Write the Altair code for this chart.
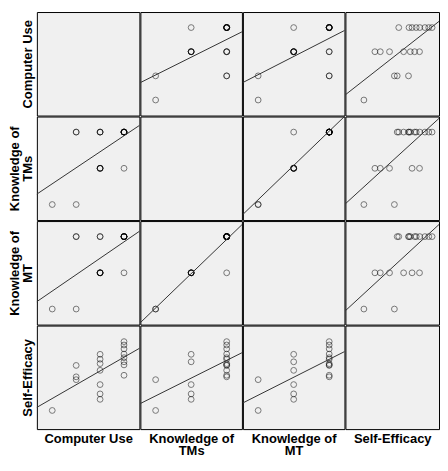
import altair as alt
import pandas as pd

# One row per respondent
computer_use = [1, 2, 2, 2, 3, 3, 3, 3, 3, 3, 3, 4, 4, 4, 4, 4, 4, 4, 4]
knowledge_tms = [1, 1, 3, 3, 2, 2, 2, 3, 3, 3, 2, 3, 3, 2, 3, 3, 3, 3, 3]
knowledge_mt = [1, 1, 3, 3, 2, 2, 2, 2, 3, 3, 2, 3, 3, 2, 3, 3, 3, 3, 3]
self_efficacy = [1.72, 2.91, 3.02, 3.46, 2.15, 2.36, 2.72, 3.27, 3.53, 3.70, 3.89,
                 3.08, 3.48, 3.60, 3.76, 3.90, 4.10, 4.25, 4.38]

var_keys = ["cu", "kt", "km", "se"]
var_titles = {
    "cu": "Computer Use",
    "kt": ["Knowledge of", "TMs"],
    "km": ["Knowledge of", "MT"],
    "se": "Self-Efficacy",
}
domains = {
    "cu": [0.357, 4.643],
    "kt": [0.571, 3.429],
    "km": [0.571, 3.429],
    "se": [1.0, 5.0],
}
widths = [103, 102, 102, 94]
HEIGHT = 104
# last column is cut off by the picture edge: keep the same px/unit
x_domains = dict(domains)
x_domains["se"] = [1.0, 1.0 + 4.0 * widths[3] / 103]

df = pd.DataFrame({
    "cu": computer_use,
    "kt": knowledge_tms,
    "km": knowledge_mt,
    "se": self_efficacy,
})

FONT = "Liberation Sans"


def make_axis(title, is_y):
    return alt.Axis(
        title=title, labels=False, ticks=False, domain=False, grid=False,
        titleFont=FONT, titleFontSize=13, titleFontWeight="bold", titleColor="black",
        titlePadding=2 if is_y else 3, titleLineHeight=13,
    )


def panel(r, c):
    xv, yv = var_keys[c], var_keys[r]
    xax = make_axis(var_titles[xv], False) if r == 3 else None
    yax = make_axis(var_titles[yv], True) if c == 0 else None
    xsc = alt.Scale(domain=x_domains[xv], nice=False, zero=False)
    ysc = alt.Scale(domain=domains[yv], nice=False, zero=False)
    xenc = alt.X(f"{xv}:Q", scale=xsc, axis=xax)
    yenc = alt.Y(f"{yv}:Q", scale=ysc, axis=yax)
    if r == c:
        return alt.Chart(df).mark_point(opacity=0).encode(x=xenc, y=yenc).properties(
            width=widths[c], height=HEIGHT)
    pts = alt.Chart(df).mark_point(
        shape="circle", size=34, color="black", strokeWidth=1, opacity=0.5, filled=False
    ).encode(x=xenc, y=yenc)
    xlo, xhi = x_domains[xv]
    ylo, yhi = domains[yv]
    # least-squares line, cut where it leaves the panel
    line = alt.Chart(df).transform_regression(
        xv, yv, params=True
    ).transform_calculate(
        a="datum.coef[0]", b="datum.coef[1]"
    ).transform_calculate(
        xs=f"datum.b > 0 ? max({xlo}, ({ylo} - datum.a) / datum.b) : max({xlo}, ({yhi} - datum.a) / datum.b)",
        xe=f"datum.b > 0 ? min({xhi}, ({yhi} - datum.a) / datum.b) : min({xhi}, ({ylo} - datum.a) / datum.b)",
    ).transform_calculate(
        ys="datum.a + datum.b * datum.xs", ye="datum.a + datum.b * datum.xe"
    ).mark_rule(color="#333333", strokeWidth=1).encode(
        x=alt.X("xs:Q", scale=xsc, axis=xax),
        x2="xe:Q",
        y=alt.Y("ys:Q", scale=ysc, axis=yax),
        y2="ye:Q",
    )
    return alt.layer(pts, line).properties(width=widths[c], height=HEIGHT)


panels = [panel(r, c) for r in range(4) for c in range(4)]

chart = alt.concat(*panels, columns=4, spacing=1, bounds="flush").properties(
    padding={"left": 0, "top": 2, "right": 0, "bottom": 0},
    background="white",
    autosize=alt.AutoSizeParams(type="pad"),
).configure_view(
    stroke="black", strokeWidth=1, fill="#f0f0f0"
).configure_concat(spacing=1)

chart.save("out.html", embed_options={"renderer": "svg", "actions": False})
